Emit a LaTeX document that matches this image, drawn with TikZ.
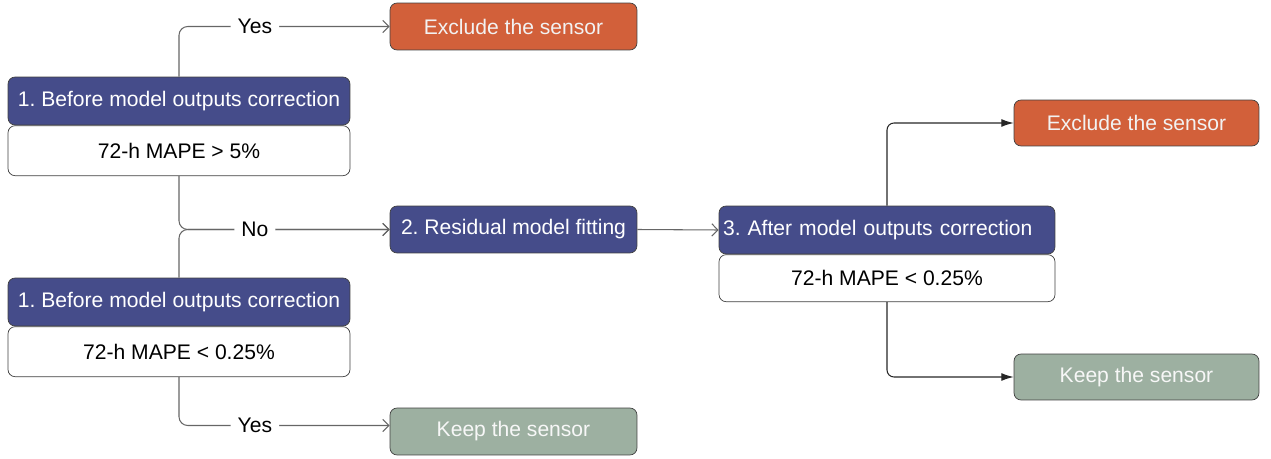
\documentclass[tikz,border=0pt]{standalone}
\usepackage{fontspec}
\setmainfont{Liberation Sans}
\usetikzlibrary{positioning, arrows.meta}

\definecolor{stepblue}{HTML}{454C8A}
\definecolor{dropred}{HTML}{D2603A}
\definecolor{keepgreen}{HTML}{9DB0A1}

\frenchspacing

\begin{document}
\begin{tikzpicture} [x=0.02cm, y=-0.02cm,
            font=\fontsize{12}{14}\selectfont,
            node distance = 0pt,
            box/.style = {draw=black!75, rounded corners=4pt, inner sep=2pt},
            headbox/.style = {box, fill=stepblue, text=white,
                minimum width=6.84cm, minimum height=0.96cm},
            condbox/.style = {box, fill=white,
                minimum width=6.84cm, minimum height=1cm},
            dropbox/.style = {box, fill=dropred, text=white!95!black,
                minimum width=4.94cm, minimum height=0.94cm},
            keepbox/.style = {box, fill=keepgreen, text=white!97!black,
                minimum width=4.94cm, minimum height=0.94cm},
            leftline/.style = {draw=black!60, line width=0.6pt, rounded corners=5pt,
                -{Straight Barb[length=3.5pt, width=7pt]}},
            rightline/.style = {draw=black!85, line width=0.6pt, rounded corners=4pt,
                -{Latex[length=7pt, width=4.5pt]}},
            answer/.style = {fill=white, inner xsep=4pt, inner ysep=1pt}]

        \useasboundingbox (0,0) rectangle (1271,459);

        % Step 1, first check
        \node (b1head) [headbox] at (179,101) {1. Before model outputs correction};
        \node (b1body) [condbox,
            below = of b1head] {72-h MAPE > 5\%};

        % Step 1, second check
        \node (b2head) [headbox] at (179,302) {1. Before model outputs correction};
        \node (b2body) [condbox,
            below = of b2head] {72-h MAPE < 0.25\%};

        % Outcomes of step 1
        \node (exTop) [dropbox] at (513.5,26.5) {Exclude the sensor};
        \node (keepLow) [keepbox] at (513.5,431.5) {Keep the sensor};

        % Step 2
        \node (resid) [headbox,
            minimum width=4.94cm, minimum height=0.94cm] at (513.5,229.5) {2. Residual model fitting};

        % Step 3
        \node (b3head) [headbox,
            minimum width=6.72cm, text width=6.56cm, align=left,
            inner xsep=0.08cm] at (887,230) {3. After model outputs correction};
        \node (b3body) [condbox,
            minimum width=6.72cm, minimum height=0.94cm,
            below = of b3head] {72-h MAPE < 0.25\%};

        % Outcomes of step 3
        \node (exRight) [dropbox,
            minimum width=4.9cm, minimum height=0.92cm] at (1136.5,123) {Exclude the sensor};
        \node (keepRight) [keepbox,
            minimum width=4.9cm, minimum height=0.92cm] at (1136.5,377) {Keep the sensor};

        \coordinate (keepIn) at ([yshift=0.12cm]keepLow.west);

        % Arrows
        \path [leftline]
            (b2head.north) |- (resid.west);
        \path [leftline]
            (b1head.north) |- node [answer, pos=0.68] {Yes} (exTop.west);
        \path [leftline]
            (b1body.south) |- node [answer, pos=0.68] {No} (resid.west);
        \path [leftline]
            (b2body.south) |- node [answer, pos=0.68] {Yes} (keepIn);
        \path [leftline]
            (resid.east) -- (b3head.west);

        \path [rightline]
            (b3head.north) |- (exRight.west);
        \path [rightline]
            (b3body.south) |- (keepRight.west);
\end{tikzpicture}
\end{document}
